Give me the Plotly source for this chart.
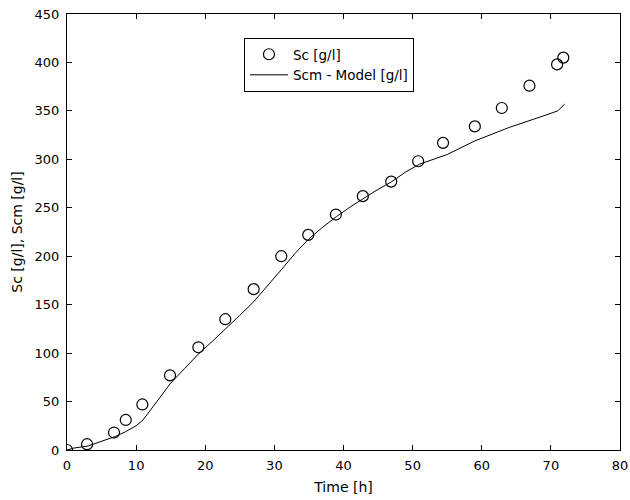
import plotly.graph_objects as go

# Measured data Sc [g/l]
t_meas = [0, 2.9, 6.8, 8.5, 10.9, 14.9, 19.0, 22.9, 27.0, 31.0, 34.9, 38.9, 42.8, 46.9, 50.8, 54.4, 59.0, 62.9, 66.9, 70.9, 71.8]
sc_meas = [0, 6, 18, 31, 47, 77, 106, 135, 166, 200, 222, 243, 262, 277, 298, 317, 334, 353, 376, 398, 405]

# Model curve Scm [g/l]
t_model = [0, 1, 3, 5, 7, 8.5, 10, 11, 13, 15, 17, 19, 21, 23, 25, 27, 29, 31, 33, 35, 37, 39, 41, 43, 45, 47, 49, 51, 53, 55, 59, 64, 69, 71, 72]
sc_model = [0, 2, 4, 9, 14, 19, 25, 31, 50, 69, 84, 99, 112, 125, 139, 153, 169, 186, 203, 218, 230, 241, 251, 260, 269, 277, 287, 295, 300, 305, 319, 333, 345, 350, 357]

FONT = "DejaVu Sans, Arial, sans-serif"

fig = go.Figure()
fig.add_trace(go.Scatter(
    x=t_meas, y=sc_meas, mode="markers", name="Sc [g/l]",
    marker=dict(symbol="circle-open", size=11, color="black", line=dict(width=1.2, color="black")),
))
fig.add_trace(go.Scatter(
    x=t_model, y=sc_model, mode="lines", name="Scm - Model [g/l]",
    line=dict(color="black", width=1),
))

axis_common = dict(
    showline=True, linecolor="black", linewidth=1, mirror="ticks",
    ticks="inside", ticklen=5, tickcolor="black", showgrid=False, zeroline=False,
    automargin=False,
    tickfont=dict(family=FONT, size=13, color="black"),
)
fig.update_xaxes(range=[0, 80], dtick=10, ticklabelstandoff=3,
                 title=dict(text="Time [h]", standoff=10, font=dict(family=FONT, size=14, color="black")),
                 **axis_common)
fig.update_yaxes(range=[0, 450], dtick=50, ticklabelstandoff=4,
                 title=dict(text="Sc [g/l], Scm [g/l]", standoff=8, font=dict(family=FONT, size=14, color="black")),
                 **axis_common)

fig.update_layout(
    width=630, height=500,
    margin=dict(l=67, r=10, t=14, b=50),
    paper_bgcolor="white", plot_bgcolor="white",
    font=dict(family=FONT, size=13, color="black"),
    legend=dict(x=0.32, y=0.945, xanchor="left", yanchor="top",
                bordercolor="black", borderwidth=1, bgcolor="white",
                font=dict(family=FONT, size=13.5), tracegroupgap=0, itemwidth=38,
                entrywidth=180, entrywidthmode="pixels"),
    showlegend=True,
)

fig.write_html("out.html")
